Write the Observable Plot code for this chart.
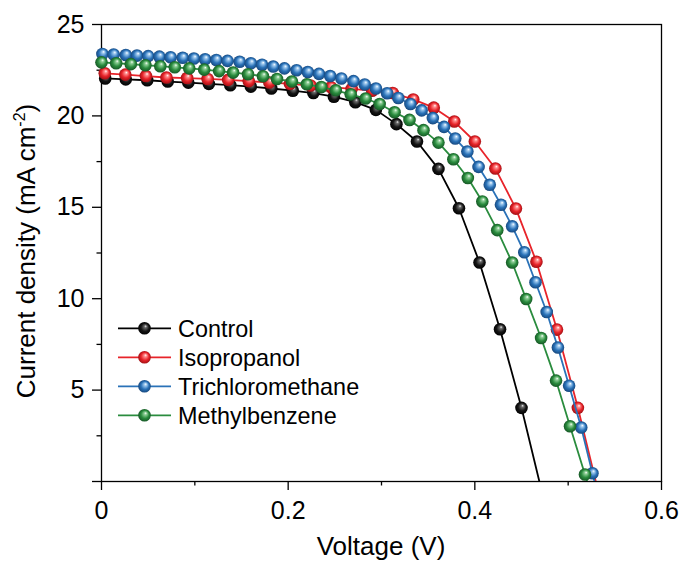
<!DOCTYPE html>
<html>
<head>
<meta charset="utf-8">
<script src="https://cdn.jsdelivr.net/npm/d3@7"></script>
<script src="https://cdn.jsdelivr.net/npm/@observablehq/plot@0.6"></script>
<style>
  html, body { margin: 0; padding: 0; background: #fff; }
  #chart { width: 686px; height: 562px; }
</style>
</head>
<body>
<div id="chart"></div>
<script>
// ---- data ----
const seriesNames = ["Control", "Isopropanol", "Trichloromethane", "Methylbenzene"];
const seriesColors = ["#000000", "#e8242a", "#2a72b8", "#2a8c3e"];

const controlV = [0.004, 0.026, 0.049, 0.071, 0.093, 0.115, 0.138, 0.160, 0.182, 0.205, 0.227,
  0.249, 0.272, 0.294, 0.316, 0.338, 0.361, 0.383, 0.405, 0.427, 0.450, 0.472];
const controlJ = [22.05, 22.0, 21.95, 21.88, 21.82, 21.75, 21.68, 21.6, 21.5, 21.38, 21.25,
  21.05, 20.75, 20.33, 19.55, 18.6, 17.1, 14.95, 11.98, 8.33, 4.03, -0.6];

const isoV = [0.0035, 0.0255, 0.0476, 0.0696, 0.0917, 0.1137, 0.1357, 0.1578, 0.1798, 0.2019,
  0.2239, 0.2459, 0.268, 0.290, 0.312, 0.334, 0.356, 0.378, 0.400, 0.422, 0.444, 0.466, 0.488,
  0.5104, 0.5325];
const isoJ = [22.33, 22.26, 22.18, 22.1, 22.07, 22.02, 21.97, 21.9, 21.83, 21.75,
  21.66, 21.57, 21.48, 21.38, 21.25, 20.9, 20.45, 19.69, 18.6, 17.12, 14.93, 12.02, 8.31,
  4.03, -0.6];

const triV = [0.001, 0.013, 0.026, 0.038, 0.050, 0.062, 0.074, 0.087, 0.099, 0.111, 0.123,
  0.135, 0.148, 0.160, 0.172, 0.184, 0.196, 0.209, 0.221, 0.233, 0.245, 0.257, 0.270, 0.282,
  0.294, 0.306, 0.318, 0.331, 0.343, 0.355, 0.367, 0.379, 0.392, 0.404, 0.416, 0.428, 0.440,
  0.453, 0.465, 0.477, 0.489, 0.501, 0.514, 0.526, 0.538];
const triJ = [23.39, 23.36, 23.33, 23.3, 23.27, 23.24, 23.21, 23.18, 23.14, 23.1, 23.06,
  23.01, 22.96, 22.88, 22.8, 22.7, 22.6, 22.5, 22.4, 22.3, 22.18, 22.05, 21.9, 21.72,
  21.5, 21.24, 20.98, 20.65, 20.3, 19.88, 19.4, 18.76, 18.05, 17.21, 16.23, 15.14, 13.96,
  12.54, 10.9, 9.27, 7.33, 5.24, 2.95, 0.45, -2.0];

const metV = [0.0, 0.0157, 0.0314, 0.047, 0.063, 0.0785, 0.094, 0.110, 0.126, 0.141, 0.157,
  0.173, 0.188, 0.204, 0.220, 0.2355, 0.251, 0.267, 0.283, 0.298, 0.314, 0.330, 0.345, 0.361,
  0.377, 0.3925, 0.408, 0.424, 0.440, 0.455, 0.471, 0.487, 0.502, 0.518, 0.534];
const metJ = [22.93, 22.88, 22.83, 22.77, 22.72, 22.66, 22.6, 22.53, 22.45, 22.37, 22.28,
  22.17, 22.02, 21.88, 21.73, 21.58, 21.4, 21.18, 20.95, 20.65, 20.2, 19.78, 19.22, 18.54,
  17.63, 16.6, 15.32, 13.75, 11.98, 9.98, 7.85, 5.52, 3.02, 0.38, -2.3];

const xMajorTicks = [0, 0.2, 0.4, 0.6];
const xMinorTicks = [0.1, 0.3, 0.5];
const yMajorTicks = [0, 5, 10, 15, 20, 25];
const yMinorTicks = [2.5, 7.5, 12.5, 17.5, 22.5];

// ---- build tidy rows ----
const vs = [controlV, isoV, triV, metV];
const js = [controlJ, isoJ, triJ, metJ];
const gradIds = ["g-black", "g-red", "g-blue", "g-green"];
const rows = [];
seriesNames.forEach((name, k) => {
  vs[k].forEach((v, i) => rows.push({series: name, k, V: v, J: js[k][i]}));
});

const font = "'Liberation Sans', Arial, Helvetica, sans-serif";

const marks = [
  Plot.frame({stroke: "#000", strokeWidth: 1.3}),
  Plot.axisX({ticks: xMajorTicks, tickSize: 9, tickPadding: 11, fontSize: 25,
    tickFormat: d => d === 0 ? "0" : d3.format(".1f")(d), label: null, strokeWidth: 1.3}),
  Plot.axisX({ticks: xMinorTicks, tickSize: 4.5, tickFormat: () => "", label: null, strokeWidth: 1.3}),
  Plot.axisY({ticks: yMajorTicks, tickSize: 9, tickPadding: 8, fontSize: 25,
    tickFormat: d => d === 0 ? "" : String(d), label: null, strokeWidth: 1.3}),
  Plot.axisY({ticks: yMinorTicks, tickSize: 4.5, tickFormat: () => "", label: null, strokeWidth: 1.3})
];
seriesNames.forEach((name, k) => {
  const data = rows.filter(r => r.k === k);
  marks.push(Plot.line(data, {x: "V", y: "J", stroke: seriesColors[k], strokeWidth: 1.8, clip: true}));
  marks.push(Plot.dot(data.filter(r => r.J >= 0), {x: "V", y: "J", r: 6.3, fill: `url(#${gradIds[k]})`, stroke: "none"}));
});

const svg = Plot.plot({
  width: 686,
  height: 562,
  marginLeft: 101,
  marginRight: 25,
  marginTop: 24,
  marginBottom: 81,
  x: {domain: [0, 0.6]},
  y: {domain: [0, 25]},
  style: {fontFamily: font, fontSize: "25px", color: "#000", background: "#fff", overflow: "visible"},
  marks
});

const s = d3.select(svg);
const defs = s.insert("defs", ":first-child");
const gradSpecs = [
  ["g-black", "#f4f4f4", "#6a6a6a", "#151515", "#000000"],
  ["g-red", "#ffffff", "#ff8f8f", "#e8242a", "#9c0e12"],
  ["g-blue", "#ffffff", "#9dc8ee", "#2a72b8", "#15457a"],
  ["g-green", "#ffffff", "#90cf98", "#2a8c3e", "#155424"]
];
gradSpecs.forEach(([id, c0, c1, c2, c3]) => {
  const g = defs.append("radialGradient").attr("id", id)
    .attr("cx", "50%").attr("cy", "50%").attr("r", "52%")
    .attr("fx", "60%").attr("fy", "32%");
  g.append("stop").attr("offset", "0%").attr("stop-color", c0);
  g.append("stop").attr("offset", "20%").attr("stop-color", c1);
  g.append("stop").attr("offset", "60%").attr("stop-color", c2);
  g.append("stop").attr("offset", "100%").attr("stop-color", c3);
});

// axis titles
s.append("text")
  .attr("x", 381).attr("y", 555)
  .attr("text-anchor", "middle")
  .attr("font-family", font).attr("font-size", 26).attr("fill", "#000")
  .text("Voltage (V)");

const yt = s.append("text")
  .attr("transform", "translate(35,251) rotate(-90)")
  .attr("text-anchor", "middle")
  .attr("font-family", font).attr("font-size", 26).attr("fill", "#000");
yt.append("tspan").text("Current density (mA cm");
yt.append("tspan").attr("font-size", 16).attr("dy", -10).text("-2");
yt.append("tspan").attr("dy", 10).text(")");

// legend
const lg = s.append("g");
seriesNames.forEach((name, k) => {
  const y = 328.3 + k * 29;
  lg.append("line").attr("x1", 118).attr("x2", 171).attr("y1", y).attr("y2", y)
    .attr("stroke", seriesColors[k]).attr("stroke-width", 1.8);
  lg.append("circle").attr("cx", 144.5).attr("cy", y).attr("r", 6.3)
    .attr("fill", `url(#${gradIds[k]})`);
  lg.append("text").attr("x", 178).attr("y", y + 8.4)
    .attr("text-anchor", "start")
    .attr("font-family", font).attr("font-size", 23.4).attr("fill", "#000")
    .text(name);
});

document.getElementById("chart").appendChild(svg);
</script>
</body>
</html>
